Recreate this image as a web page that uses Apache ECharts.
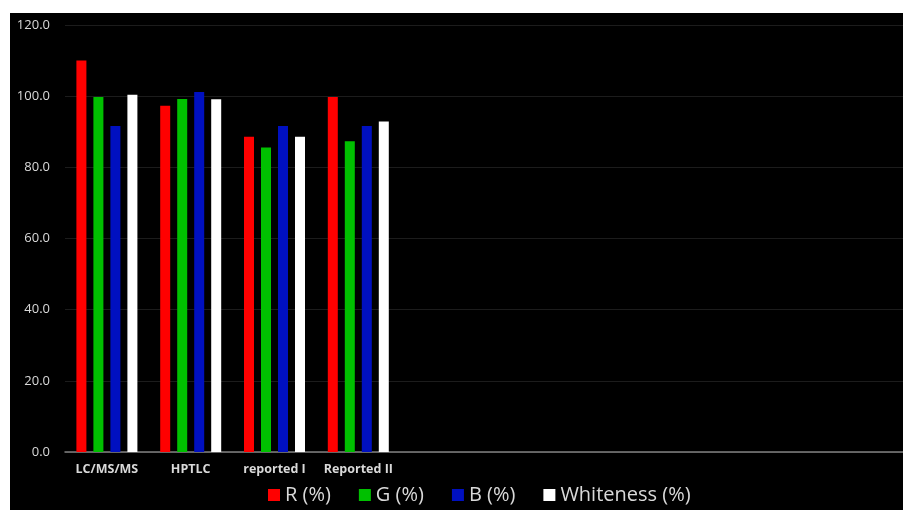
<!DOCTYPE html>
<html>
<head>
<meta charset="utf-8">
<script src="https://cdn.jsdelivr.net/npm/echarts@6/dist/echarts.min.js"></script>
<style>
  html, body { margin: 0; padding: 0; background: #ffffff; }
  #chart { position: absolute; left: 10px; top: 13px; width: 893px; height: 497px; background: #000000; }
</style>
</head>
<body>
<div id="chart"></div>
<script>
// Colour-space results per analytical method (%)
const methods = ['LC/MS/MS', 'HPTLC', 'reported I', 'Reported II'];
// The category axis carries empty slots after the four methods
const categories = methods.concat(['', '', '', '', '', '']);
const seriesNames = ['R (%)', 'G (%)', 'B (%)', 'Whiteness (%)'];
const rValues = [110.0, 97.3, 88.6, 99.8];
const gValues = [99.8, 99.2, 85.6, 87.3];
const bValues = [91.6, 101.2, 91.6, 91.6];
const whitenessValues = [100.4, 99.1, 88.6, 92.9];
const yTicks = { min: 0, max: 120, interval: 20 };

const colors = ['#ff0000', '#00c000', '#0010c0', '#ffffff'];
const valueSets = [rValues, gValues, bValues, whitenessValues];

const chart = echarts.init(document.getElementById('chart'), null, { renderer: 'canvas' });

chart.setOption({
  backgroundColor: '#000000',
  animation: false,
  grid: { left: 55, right: 0, top: 12, bottom: 58, containLabel: false },
  legend: {
    left: 253,
    top: 467,
    itemWidth: 12,
    itemHeight: 12,
    itemGap: 28,
    icon: 'rect',
    textStyle: { color: '#d9d9d9', fontSize: 20, fontFamily: 'Open Sans' },
    data: seriesNames
  },
  xAxis: {
    type: 'category',
    data: categories,
    axisLine: { lineStyle: { color: '#808080', width: 1.5 } },
    axisTick: { show: false },
    axisLabel: { color: '#d9d9d9', fontSize: 12.5, fontWeight: 'bold', fontFamily: 'Open Sans', margin: 11, interval: 0 },
    splitLine: { show: false }
  },
  yAxis: {
    type: 'value',
    min: yTicks.min,
    max: yTicks.max,
    interval: yTicks.interval,
    axisLine: { show: false },
    axisTick: { show: false },
    axisLabel: {
      color: '#d9d9d9', fontSize: 13, fontFamily: 'Open Sans', margin: 15,
      formatter: v => v.toFixed(1)
    },
    splitLine: { lineStyle: { color: '#1c1c1c', width: 1 } }
  },
  series: seriesNames.map((name, i) => ({
    name: name,
    type: 'bar',
    data: valueSets[i],
    barWidth: 10,
    barGap: '70%',
    itemStyle: { color: colors[i] }
  }))
});
</script>
</body>
</html>
